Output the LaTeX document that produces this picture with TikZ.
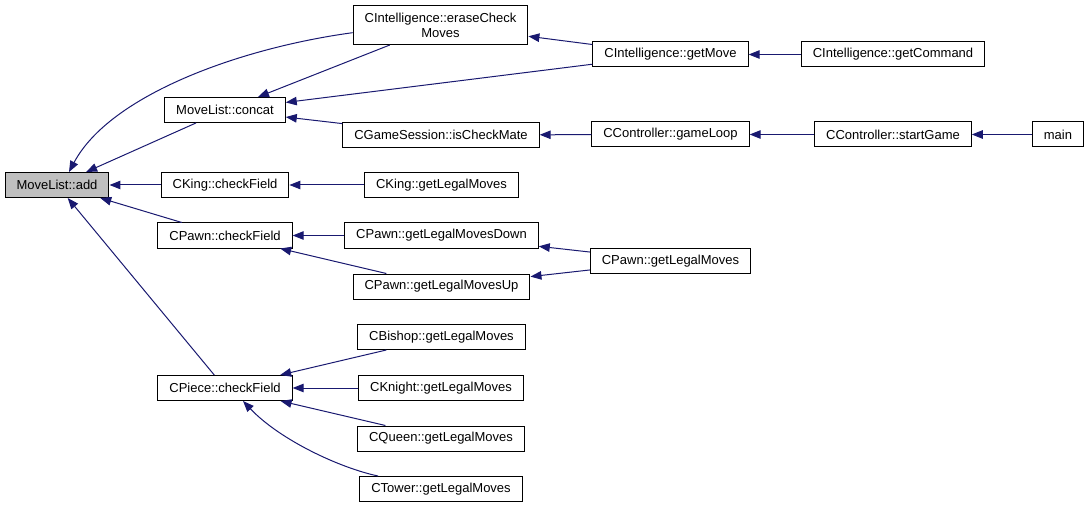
\documentclass[tikz,border=0pt]{standalone}
\usepackage{fontspec}
\setmainfont{Liberation Sans}
\usepackage{tikz}
\usetikzlibrary{arrows.meta}
\definecolor{edgeblu}{HTML}{191970}
\definecolor{addgray}{HTML}{BFBFBF}
\tikzset{
    fn/.style={draw=black, line width=1pt, rectangle, inner xsep=11.5pt, inner ysep=0pt,
        minimum height=25pt, font=\fontsize{13}{15}\selectfont, align=center},
    call/.style={color=edgeblu, line width=1pt, >={Triangle[length=11pt,width=8.5pt]}, <-}
}
\begin{document}
\begin{tikzpicture}[x=1pt,y=-1pt]
        \useasboundingbox (0,0) rectangle (1088,508);
        % nodes
        \node[fn, fill=addgray] (add) at (57,185) {MoveList::add};
        \node[fn, minimum height=39pt] (erase) at (440.5,25) {CIntelligence::eraseCheck\\Moves};
        \node[fn] (concat) at (225,110) {MoveList::concat};
        \node[fn] (checkmate) at (441,135) {CGameSession::isCheckMate};
        \node[fn] (getmove) at (670.5,54.5) {CIntelligence::getMove};
        \node[fn] (getcmd) at (893,54.5) {CIntelligence::getCommand};
        \node[fn] (gameloop) at (670.5,134.5) {CController::gameLoop};
        \node[fn] (startgame) at (893,134.5) {CController::startGame};
        \node[fn] (main) at (1058,134.5) {main};
        \node[fn] (kingcf) at (225,185) {CKing::checkField};
        \node[fn] (kinglm) at (441.5,185) {CKing::getLegalMoves};
        \node[fn] (pawncf) at (225,235.5) {CPawn::checkField};
        \node[fn] (pawndown) at (441.5,235.5) {CPawn::getLegalMovesDown};
        \node[fn] (pawnup) at (441.5,286.5) {CPawn::getLegalMovesUp};
        \node[fn] (pawnlm) at (670.5,261) {CPawn::getLegalMoves};
        \node[fn] (bishop) at (441.5,337) {CBishop::getLegalMoves};
        \node[fn] (piececf) at (225,388) {CPiece::checkField};
        \node[fn] (knight) at (441,388) {CKnight::getLegalMoves};
        \node[fn] (queen) at (441,438.5) {CQueen::getLegalMoves};
        \node[fn] (tower) at (441,489) {CTower::getLegalMoves};
        % calls
        \draw[call] ([xshift=12pt]add.north) .. controls (110,95) and (240,48) .. (erase.185);
        \draw[call] (add) -- (concat);
        \draw[call] (add) -- (kingcf);
        \draw[call] (add) -- (pawncf);
        \draw[call] (add) -- (piececf);
        \draw[call] (concat) -- (erase);
        \draw[call] (concat) -- (getmove);
        \draw[call] (concat) -- (checkmate);
        \draw[call] (erase) -- (getmove);
        \draw[call] (getmove) -- (getcmd);
        \draw[call] (checkmate) -- (gameloop);
        \draw[call] (gameloop) -- (startgame);
        \draw[call] (startgame) -- (main);
        \draw[call] (kingcf) -- (kinglm);
        \draw[call] (pawncf) -- (pawndown);
        \draw[call] (pawncf) -- (pawnup);
        \draw[call] (pawndown) -- (pawnlm);
        \draw[call] (pawnup) -- (pawnlm);
        \draw[call] (piececf) -- (bishop);
        \draw[call] (piececf) -- (knight);
        \draw[call] (piececf) -- (queen);
        \draw[call] ([xshift=18pt]piececf.south) .. controls (280,440) and (340,468) .. ([xshift=-63pt]tower.north);
    \end{tikzpicture}
\end{document}
